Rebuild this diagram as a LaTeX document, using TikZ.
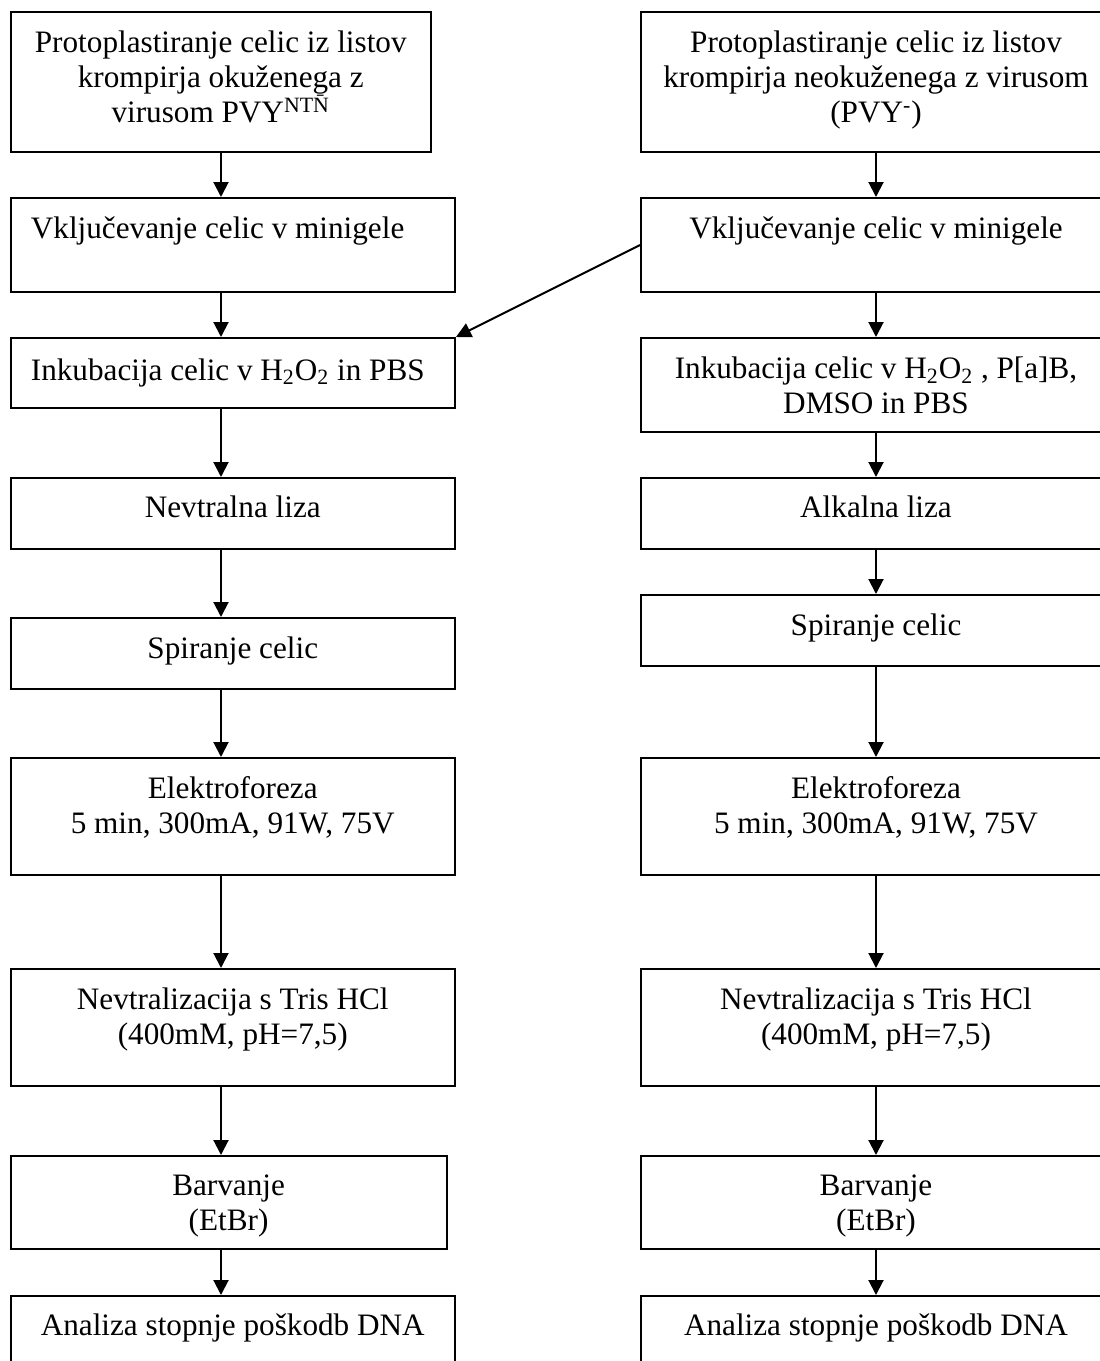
\documentclass[tikz,border=0pt]{standalone}
\usepackage{fontspec}
\setmainfont{Liberation Serif}
\usetikzlibrary{positioning,fit,arrows.meta}
\tikzset{
  stepbox/.style={draw,line width=1pt,inner sep=0pt,rectangle},
  steptext/.style={align=center,inner sep=0pt,
    font=\fontsize{15.6pt}{17.5pt}\selectfont},
  flow/.style={line width=1pt,-{Triangle[length=7.5pt,width=7.5pt]}},
}

\begin{document}
\begin{tikzpicture}[x=0.5pt,y=-0.5pt]
\useasboundingbox (0,0) rectangle (1099,1361);
\coordinate (lc) at (221,0);
\coordinate (rc) at (876,0);
% left column (PVY NTN)
\node[stepbox,fit={(10.5,12) (431,152)}] (l1) {};
\node[stepbox,fit={(10.5,198) (455,292)}] (l2) {};
\node[stepbox,fit={(10.5,338) (455,408)}] (l3) {};
\node[stepbox,fit={(10.5,478) (455,549)}] (l4) {};
\node[stepbox,fit={(10.5,618) (455,689)}] (l5) {};
\node[stepbox,fit={(10.5,758) (455,875)}] (l6) {};
\node[stepbox,fit={(10.5,969) (455,1086)}] (l7) {};
\node[stepbox,fit={(10.5,1156) (446.7,1249)}] (l8) {};
\node[stepbox,fit={(10.5,1296) (455,1400)}] (l9) {};
% right column (PVY-)
\node[stepbox,fit={(641,12) (1111,152)}] (r1) {};
\node[stepbox,fit={(641,198) (1111,292)}] (r2) {};
\node[stepbox,fit={(641,338) (1111,432)}] (r3) {};
\node[stepbox,fit={(641,478) (1111,549)}] (r4) {};
\node[stepbox,fit={(641,595) (1111,666)}] (r5) {};
\node[stepbox,fit={(641,758) (1111,875)}] (r6) {};
\node[stepbox,fit={(641,969) (1111,1086)}] (r7) {};
\node[stepbox,fit={(641,1156) (1111,1249)}] (r8) {};
\node[stepbox,fit={(641,1296) (1111,1400)}] (r9) {};

\node[steptext,below=9.75pt of l1.north] (tl1) {Protoplastiranje celic iz listov\\krompirja okuženega z\\virusom PVY\textsuperscript{NT\=N}};
\node[steptext,below right=9.75pt and 10.5pt of l2.north west] (tl2) {Vključevanje celic v minigele};
\node[steptext,below right=10.5pt and 10.5pt of l3.north west] (tl3) {Inkubacija celic v H\textsubscript{2}O\textsubscript{2} in PBS};
\node[steptext,below=9pt of l4.north] (tl4) {Nevtralna liza};
\node[steptext,below=9.75pt of l5.north] (tl5) {Spiranje celic};
\node[steptext,below=9.75pt of l6.north] (tl6) {Elektroforeza\\5 min, 300mA, 91W, 75V};
\node[steptext,below=9.75pt of l7.north] (tl7) {Nevtralizacija s Tris HCl\\(400mM, pH=7,5)};
\node[steptext,below=9.75pt of l8.north] (tl8) {Barvanje\\(EtBr)};
\node[steptext,below=9.25pt of l9.north] (tl9) {Analiza stopnje poškodb DNA};

\node[steptext,below=9.75pt of r1.north] (tr1) {Protoplastiranje celic iz listov\\krompirja neokuženega z virusom\\(PVY\textsuperscript{-})};
\node[steptext,below=9.75pt of r2.north] (tr2) {Vključevanje celic v minigele};
\node[steptext,below=9.75pt of r3.north] (tr3) {Inkubacija celic v H\textsubscript{2}O\textsubscript{2} , P[a]B,\\DMSO in PBS};
\node[steptext,below=9pt of r4.north] (tr4) {Alkalna liza};
\node[steptext,below=9.75pt of r5.north] (tr5) {Spiranje celic};
\node[steptext,below=9.75pt of r6.north] (tr6) {Elektroforeza\\5 min, 300mA, 91W, 75V};
\node[steptext,below=9.75pt of r7.north] (tr7) {Nevtralizacija s Tris HCl\\(400mM, pH=7,5)};
\node[steptext,below=9.75pt of r8.north] (tr8) {Barvanje\\(EtBr)};
\node[steptext,below=9.25pt of r9.north] (tr9) {Analiza stopnje poškodb DNA};

\foreach \a/\b in {l1/l2,l2/l3,l3/l4,l4/l5,l5/l6,l6/l7,l7/l8,l8/l9}
  \draw[flow] (\a.south -| lc) -- (\b.north -| lc);
\foreach \a/\b in {r1/r2,r2/r3,r3/r4,r4/r5,r5/r6,r6/r7,r7/r8,r8/r9}
  \draw[flow] (\a.south -| rc) -- (\b.north -| rc);
\draw[flow] (r2.west) -- (l3.north east);
\end{tikzpicture}
\end{document}
